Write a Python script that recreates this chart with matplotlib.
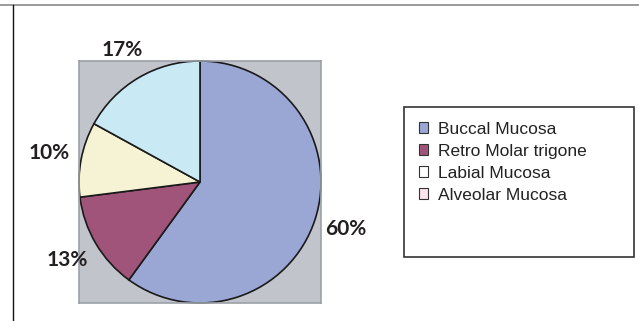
import matplotlib
matplotlib.use("Agg")
import matplotlib.pyplot as plt
from matplotlib.patches import Patch, Rectangle
from matplotlib.lines import Line2D

# site distribution (%)
sites = ["Buccal Mucosa", "Retro Molar trigone", "Labial Mucosa", "Alveolar Mucosa"]
shares = [60, 13, 10, 17]
slice_colors = ["#9aa6d4", "#a15479", "#f5f3d4", "#c9e9f4"]
legend_colors = ["#9aa6d4", "#a15479", "#ffffff", "#fde3ec"]

W, H = 639, 321
fig = plt.figure(figsize=(W / 100, H / 100), dpi=100)

# outer frame: grey top rule, black left rule
fig.add_artist(Line2D([0, 1], [1 - 5 / H, 1 - 5 / H], color="#8a8a8a", lw=1.2))
fig.add_artist(Line2D([13 / W, 13 / W], [0, 1 - 5 / H], color="#111111", lw=1.0))

# pie on a grey square plot area
ax = fig.add_axes([79 / W, 1 - 303 / H, 242 / W, 242 / H])
ax.set_facecolor("#c1c4cb")
for sp in ax.spines.values():
    sp.set_color("#9ba1a8")
    sp.set_linewidth(1.2)
ax.set_xticks([])
ax.set_yticks([])

wedges, texts, pcts = ax.pie(
    shares, colors=slice_colors, startangle=90, counterclock=False,
    radius=1.0, autopct="%.0f%%", pctdistance=1.27,
    wedgeprops=dict(edgecolor="#1a1a1a", linewidth=1.2),
    frame=True,
)
for t in pcts:
    t.set_fontfamily("Lato")
    t.set_fontweight("bold")
    t.set_fontsize(15)
    t.set_color("#231f20")
ax.set_xlim(-1.0, 1.0)
ax.set_ylim(-1.0, 1.0)
ax.set_aspect("auto")

# legend box
fig.add_artist(Rectangle((404 / W, 1 - 257 / H), 230 / W, 150 / H,
                         transform=fig.transFigure, facecolor="white",
                         edgecolor="#333333", lw=1.2))
handles = [Patch(facecolor=c, edgecolor="#333333", lw=0.8) for c in legend_colors]
leg = fig.legend(handles, sites, loc="upper left",
                 bbox_to_anchor=(410 / W, 1 - 113 / H),
                 frameon=False, prop=dict(family="Liberation Sans", size=12.5),
                 handlelength=0.55, handleheight=0.55, handletextpad=0.55,
                 labelspacing=0.4, borderpad=0.0)
for t in leg.get_texts():
    t.set_color("#222222")

fig.savefig("out.png", dpi=100)
